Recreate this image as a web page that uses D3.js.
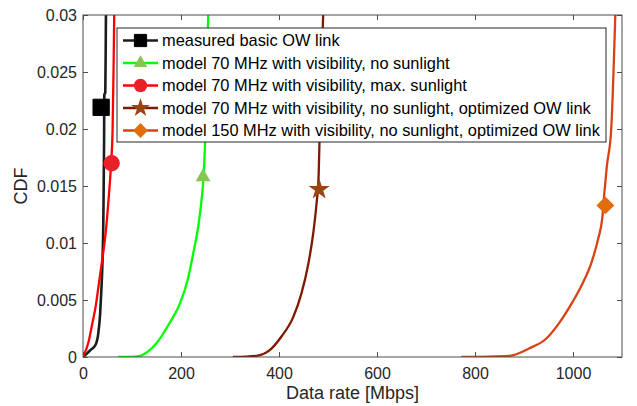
<!DOCTYPE html>
<html>
<head>
<meta charset="utf-8">
<script src="https://cdn.jsdelivr.net/npm/d3@7"></script>
<style>
body { margin: 0; background: #fff; }
svg { display: block; font-family: "Liberation Sans", Arial, sans-serif; }
</style>
</head>
<body>
<svg id="plot"></svg>
<script>
"use strict";

var XTICKS = [0, 200, 400, 600, 800, 1000];
var YTICKS = [0, 0.005, 0.01, 0.015, 0.02, 0.025, 0.03];
var XLABEL = "Data rate [Mbps]";
var YLABEL = "CDF";

var NAMES = [
    "measured basic OW link",
    "model 70 MHz with visibility, no sunlight",
    "model 70 MHz with visibility, max. sunlight",
    "model 70 MHz with visibility, no sunlight, optimized OW link",
    "model 150 MHz with visibility, no sunlight, optimized OW link"
];

var blackRate = [0, 8, 15, 26, 31, 35, 37.5, 39.5, 41.5, 43, 43.5, 45.5, 46.5, 47];
var blackCdf = [0, 0.0003, 0.0006, 0.0011, 0.002, 0.0038, 0.0059, 0.008, 0.012, 0.0188, 0.023, 0.0232, 0.028, 0.031];

var greenRate = [72, 100, 116, 130, 150, 177, 198, 215, 225, 235, 242, 246, 250, 253, 256];
var greenCdf = [0, 0, 0.0001, 0.0004, 0.0012, 0.003, 0.0047, 0.007, 0.0091, 0.0114, 0.0138, 0.0158, 0.02, 0.025, 0.031];

var redRate = [0, 11.8, 18.8, 25.7, 32.6, 39.5, 46.5, 51.4, 56.9, 60.4, 62.4, 64];
var redCdf = [0, 0.0014, 0.0029, 0.0044, 0.0065, 0.0086, 0.011, 0.0134, 0.0167, 0.02, 0.0254, 0.031];

var brownRate = [306, 354, 381, 405, 429, 446, 460, 470, 476, 481, 483, 486.5, 491];
var brownCdf = [0, 0.0001, 0.0006, 0.0018, 0.0035, 0.0056, 0.0082, 0.0109, 0.0132, 0.0161, 0.0196, 0.0255, 0.031];

var orangeRate = [772, 870, 911, 945, 972, 1000, 1020, 1037, 1051, 1060, 1064, 1069, 1078, 1087];
var orangeCdf = [0, 0.0001, 0.00076, 0.0016, 0.003, 0.0049, 0.0065, 0.0082, 0.0103, 0.0123, 0.0144, 0.0167, 0.02, 0.031];

// one marker per curve, same order as NAMES
var markRate = [37, 245, 58.5, 482, 1066];
var markCdf = [0.0219, 0.0158, 0.017, 0.0147, 0.0133];

var LINECOL = ["#1c1c1c", "#00ff00", "#ff0000", "#7f1a00", "#d84315"];
var MARKCOL = ["#000000", "#86c550", "#e8202a", "#994411", "#e36c0f"];
var SYMBOL = [d3.symbolSquare, d3.symbolTriangle, d3.symbolCircle, d3.symbolStar, d3.symbolSquare];
var SIZE = [265, 95, 210, 140, 160];
var LSIZE = [150, 80, 140, 110, 110];
var ROTATE = [0, 0, 0, 0, 45];

var series = [
    [blackRate, blackCdf],
    [greenRate, greenCdf],
    [redRate, redCdf],
    [brownRate, brownCdf],
    [orangeRate, orangeCdf]
];

var W = 637, H = 406;
var margin = {top: 15, right: 15, bottom: 49, left: 83};
var width = W - margin.left - margin.right;
var height = H - margin.top - margin.bottom;

var svg = d3.select("#plot").attr("width", W).attr("height", H);
var g = svg.append("g")
    .attr("transform", "translate(" + margin.left + "," + margin.top + ")");

var x = d3.scaleLinear().domain([0, 1100]).range([0, width]);
var y = d3.scaleLinear().domain([0, 0.03]).range([height, 0]);

svg.append("defs").append("clipPath").attr("id", "clip")
    .append("rect").attr("width", width).attr("height", height);

var fmt = function(d) { return d === 0 ? "0" : String(+d.toFixed(3)); };
var AXC = "#4d4d4d";
var TXC = "#262626";

var styleAxis = function(sel) {
    sel.select(".domain").remove();
    sel.selectAll(".tick line").attr("stroke", AXC);
    sel.selectAll(".tick text").attr("fill", TXC).attr("font-size", 16)
        .attr("font-family", "Liberation Sans, Arial, sans-serif");
};

var gx = g.append("g").attr("transform", "translate(0," + height + ")")
    .call(d3.axisBottom(x).tickValues(XTICKS).tickSize(-5).tickPadding(11).tickFormat(d3.format("d")));
styleAxis(gx);
var gy = g.append("g")
    .call(d3.axisLeft(y).tickValues(YTICKS).tickSize(-5).tickPadding(6).tickFormat(fmt));
styleAxis(gy);
gy.selectAll(".tick text").attr("dy", "0.35em");
var gt = g.append("g").call(d3.axisTop(x).tickValues(XTICKS).tickSize(-5).tickFormat(""));
styleAxis(gt);
var gr = g.append("g").attr("transform", "translate(" + width + ",0)")
    .call(d3.axisRight(y).tickValues(YTICKS).tickSize(-5).tickFormat(""));
styleAxis(gr);

var line = d3.line()
    .x(function(d) { return x(d[0]); })
    .y(function(d) { return y(d[1]); })
    .curve(d3.curveMonotoneX);

var gplot = g.append("g").attr("clip-path", "url(#clip)");
series.forEach(function(s, i) {
    var pts = s[0].map(function(v, k) { return [v, s[1][k]]; });
    gplot.append("path")
        .datum(pts)
        .attr("fill", "none")
        .attr("stroke", LINECOL[i])
        .attr("stroke-width", i === 0 ? 2.6 : 2.3)
        .attr("stroke-linejoin", "round")
        .attr("d", line);
});

var marker = function(sel, i, size) {
    sel.append("path")
        .attr("d", d3.symbol().type(SYMBOL[i]).size(size)())
        .attr("fill", MARKCOL[i])
        .attr("stroke", i === 0 ? "#000" : "none")
        .attr("transform", "rotate(" + ROTATE[i] + ")");
};

markRate.forEach(function(v, i) {
    var m = g.append("g")
        .attr("transform", "translate(" + x(v) + "," + y(markCdf[i]) + ")");
    marker(m, i, SIZE[i]);
});

// box
g.append("rect")
    .attr("width", width).attr("height", height)
    .attr("fill", "none").attr("stroke", AXC).attr("stroke-width", 1);

// legend
var lx = 117 - margin.left, ly = 28 - margin.top;
var leg = g.append("g").attr("transform", "translate(" + lx + "," + ly + ")");
leg.append("rect")
    .attr("width", 489).attr("height", 114)
    .attr("fill", "#fff").attr("stroke", TXC).attr("stroke-width", 1);
NAMES.forEach(function(name, i) {
    var row = leg.append("g").attr("transform", "translate(0," + (12.5 + i * 22.5) + ")");
    row.append("line")
        .attr("x1", 6).attr("x2", 41)
        .attr("stroke", LINECOL[i]).attr("stroke-width", i === 0 ? 2.6 : 2.3);
    var m = row.append("g").attr("transform", "translate(23.5,0)");
    marker(m, i, LSIZE[i]);
    row.append("text")
        .attr("x", 45).attr("dy", "0.35em")
        .attr("font-size", 16.4).attr("fill", "#000")
        .text(name);
});

// axis labels
g.append("text")
    .attr("x", width / 2).attr("y", height + 42)
    .attr("text-anchor", "middle").attr("font-size", 18).attr("fill", TXC)
    .text(XLABEL);
g.append("text")
    .attr("transform", "translate(" + (27 - margin.left) + "," + (height / 2) + ") rotate(-90)")
    .attr("text-anchor", "middle").attr("font-size", 18).attr("fill", TXC)
    .text(YLABEL);
</script>
</body>
</html>
